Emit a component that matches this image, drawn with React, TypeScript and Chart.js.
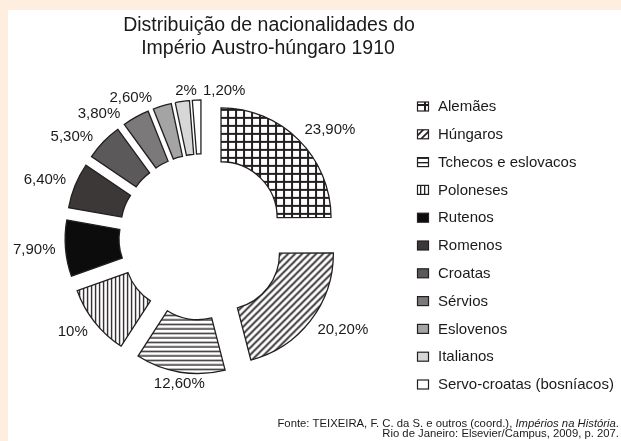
import React, { useEffect, useRef } from "react";
import { Chart, registerables } from "chart.js";

Chart.register(...registerables);

const TITLE_LINES = ["Distribuição de nacionalidades do", "Império Austro-húngaro 1910"];
const CATEGORIES = [
  "Alemães",
  "Húngaros",
  "Tchecos e eslovacos",
  "Poloneses",
  "Rutenos",
  "Romenos",
  "Croatas",
  "Sérvios",
  "Eslovenos",
  "Italianos",
  "Servo-croatas (bosníacos)",
];
const VALUES = [23.9, 20.2, 12.6, 10, 7.9, 6.4, 5.3, 3.8, 2.6, 2, 1.2];
const FILLS = [
  "grid",
  "diag",
  "hlines",
  "vlines",
  "#0c0c0c",
  "#3b3837",
  "#5b5959",
  "#7b7979",
  "#a4a4a4",
  "#d7d7d7",
  "#ffffff",
];
const SOURCE_LINE1 = "Fonte: TEIXEIRA, F. C. da S. e outros (coord.), ";
const SOURCE_LINE1_ITALIC = "Impérios na História";
const SOURCE_LINE1_END = ".";
const SOURCE_LINE2 = "Rio de Janeiro: Elsevier/Campus, 2009, p. 207.";

const FONT = "'Liberation Sans', Arial, Helvetica, sans-serif";
const INK = "#1a1a1a";
const LINE = "#231f20";
const EXPLODE = 27;
const MIN_LABEL_SEP = (14 * Math.PI) / 180;

function formatPct(v: number): string {
  if (Number.isInteger(v)) return v + "%";
  return v.toFixed(2).replace(".", ",") + "%";
}

function makePattern(kind: string): CanvasPattern | string {
  if (kind.startsWith("#")) return kind;
  const c = document.createElement("canvas");
  const x = c.getContext("2d")!;
  if (kind === "grid") {
    c.width = 8;
    c.height = 8;
    x.fillStyle = "#fff";
    x.fillRect(0, 0, 8, 8);
    x.fillStyle = LINE;
    x.fillRect(0, 0, 8, 2);
    x.fillRect(0, 0, 2, 8);
  } else if (kind === "diag") {
    c.width = 7;
    c.height = 7;
    x.fillStyle = "#fff";
    x.fillRect(0, 0, 7, 7);
    x.strokeStyle = LINE;
    x.lineWidth = 1.7;
    for (const o of [-7, 0, 7]) {
      x.beginPath();
      x.moveTo(o - 1, 8);
      x.lineTo(o + 8, -1);
      x.stroke();
    }
  } else if (kind === "hlines") {
    c.width = 9;
    c.height = 9;
    x.fillStyle = "#fff";
    x.fillRect(0, 0, 9, 9);
    x.fillStyle = LINE;
    x.fillRect(0, 0, 9, 1.4);
    x.fillRect(0, 4.5, 9, 1.4);
  } else if (kind === "vlines") {
    c.width = 4;
    c.height = 4;
    x.fillStyle = "#fff";
    x.fillRect(0, 0, 4, 4);
    x.fillStyle = LINE;
    x.fillRect(0, 0, 1.3, 4);
  }
  return x.createPattern(c, "repeat")!;
}

// spread label angles so neighbours keep a minimum angular separation
function spreadAngles(desired: number[], sep: number): number[] {
  type G = { start: number; n: number; base: number };
  const groups: G[] = [];
  desired.forEach((a, i) => {
    groups.push({ start: i, n: 1, base: a });
    while (groups.length > 1) {
      const g = groups[groups.length - 1];
      const p = groups[groups.length - 2];
      if (g.base < p.base + p.n * sep) {
        const n = p.n + g.n;
        let sum = 0;
        for (let k = 0; k < n; k++) sum += desired[p.start + k] - k * sep;
        groups.pop();
        groups[groups.length - 1] = { start: p.start, n, base: sum / n };
      } else break;
    }
  });
  const out: number[] = [];
  groups.forEach((g) => {
    for (let k = 0; k < g.n; k++) out.push(g.base + k * sep);
  });
  return out;
}

export default function App() {
  const ref = useRef<HTMLCanvasElement | null>(null);

  useEffect(() => {
    document.body.style.margin = "0";
    const canvas = ref.current!;
    const fills = FILLS.map(makePattern);

    const backgroundPlugin = {
      id: "bg",
      beforeDraw(chart: any) {
        const ctx = chart.ctx;
        ctx.save();
        ctx.fillStyle = "#fdeee0";
        ctx.fillRect(0, 0, chart.width, chart.height);
        ctx.fillStyle = "#ffffff";
        ctx.fillRect(8, 10, chart.width - 8, chart.height - 10);
        ctx.fillStyle = INK;
        ctx.font = `19.5px ${FONT}`;
        ctx.textAlign = "center";
        ctx.textBaseline = "alphabetic";
        ctx.fillText(TITLE_LINES[0], 269, 31);
        ctx.fillText(TITLE_LINES[1], 268, 54);
        ctx.restore();
      },
    };

    const explodePlugin = {
      id: "explode",
      beforeDatasetDraw(chart: any, args: any) {
        const ctx = chart.ctx;
        args.meta.data.forEach((arc: any) => {
          const { startAngle, endAngle } = arc.getProps(["startAngle", "endAngle"], true);
          const mid = (startAngle + endAngle) / 2;
          ctx.save();
          ctx.translate(Math.cos(mid) * EXPLODE, Math.sin(mid) * EXPLODE);
          arc.draw(ctx, chart.chartArea);
          ctx.restore();
        });
        return false;
      },
    };

    const labelPlugin = {
      id: "labels",
      afterDatasetsDraw(chart: any) {
        const ctx = chart.ctx;
        const meta = chart.getDatasetMeta(0);
        ctx.save();
        ctx.font = `15px ${FONT}`;
        ctx.fillStyle = INK;
        ctx.textBaseline = "middle";
        const hh = 6;
        const props = meta.data.map((arc: any) =>
          arc.getProps(["x", "y", "startAngle", "endAngle", "outerRadius"], true)
        );
        const desired = props.map((p: any) => (p.startAngle + p.endAngle) / 2);
        const angles = spreadAngles(desired, MIN_LABEL_SEP);
        const boxes: { text: string; l: number; r: number; t: number; b: number; cx: number }[] = [];
        props.forEach((p: any, i: number) => {
          const mid = angles[i];
          const ux = Math.cos(mid);
          const uy = Math.sin(mid);
          const rt = p.outerRadius + EXPLODE + 4 + 6 * Math.abs(ux);
          const text = formatPct(VALUES[i]);
          const w = ctx.measureText(text).width;
          const ax = p.x + rt * ux;
          const ay = p.y + rt * uy + hh * uy;
          let l: number;
          if (ux > 0.25) l = ax;
          else if (ux < -0.25) l = ax - w;
          else l = ax - w / 2;
          const box = { text, l, r: l + w, t: ay - hh, b: ay + hh, cx: l + w / 2 };
          for (const o of boxes) {
            const overlapX = Math.min(box.r, o.r) - Math.max(box.l, o.l);
            const overlapY = Math.min(box.b, o.b) - Math.max(box.t, o.t);
            if (overlapX > -4 && overlapY > 0) {
              const shift = overlapX + 6;
              if (box.cx >= o.cx) {
                box.l += shift;
                box.r += shift;
              } else {
                box.l -= shift;
                box.r -= shift;
              }
              box.cx = (box.l + box.r) / 2;
            }
          }
          boxes.push(box);
        });
        ctx.textAlign = "left";
        for (const b of boxes) ctx.fillText(b.text, b.l, (b.t + b.b) / 2 + 0.5);
        ctx.restore();
      },
    };

    const legendPlugin = {
      id: "customLegend",
      afterDraw(chart: any) {
        const ctx = chart.ctx;
        ctx.save();
        ctx.font = `15px ${FONT}`;
        ctx.textBaseline = "middle";
        ctx.textAlign = "left";
        CATEGORIES.forEach((name, i) => {
          const y = 106.5 + i * 27.8;
          ctx.fillStyle = fills[i] as any;
          ctx.fillRect(417.5, y - 4.5, 11, 9);
          ctx.strokeStyle = LINE;
          ctx.lineWidth = 1.2;
          ctx.strokeRect(417.5, y - 4.5, 11, 9);
          ctx.fillStyle = INK;
          ctx.fillText(name, 438, y + 0.5);
        });
        ctx.textAlign = "left";
        ctx.textBaseline = "alphabetic";
        const right = 619;
        ctx.font = `11.3px ${FONT}`;
        const wA = ctx.measureText(SOURCE_LINE1).width;
        const wEnd = ctx.measureText(SOURCE_LINE1_END).width;
        ctx.font = `italic 11.3px ${FONT}`;
        const wB = ctx.measureText(SOURCE_LINE1_ITALIC).width;
        let x = right - (wA + wB + wEnd);
        ctx.font = `11.3px ${FONT}`;
        ctx.fillText(SOURCE_LINE1, x, 427);
        x += wA;
        ctx.font = `italic 11.3px ${FONT}`;
        ctx.fillText(SOURCE_LINE1_ITALIC, x, 427);
        x += wB;
        ctx.font = `11.3px ${FONT}`;
        ctx.fillText(SOURCE_LINE1_END, x, 427);
        ctx.textAlign = "right";
        ctx.fillText(SOURCE_LINE2, right, 437);
        ctx.restore();
      },
    };

    const chart = new Chart(canvas, {
      type: "doughnut",
      data: {
        labels: CATEGORIES,
        datasets: [
          {
            data: VALUES,
            backgroundColor: fills as any,
            borderColor: LINE,
            borderWidth: 1.3,
            borderJoinStyle: "miter",
            borderAlign: "center",
          } as any,
        ],
      },
      options: {
        responsive: false,
        devicePixelRatio: 1,
        animation: false,
        events: [],
        radius: 110,
        cutout: "51%",
        layout: { padding: { left: 10, right: 227, top: 70, bottom: 37 } },
        plugins: {
          legend: { display: false },
          tooltip: { enabled: false },
          title: { display: false },
        },
      } as any,
      plugins: [backgroundPlugin, explodePlugin, labelPlugin, legendPlugin],
    });

    return () => chart.destroy();
  }, []);

  return (
    <div style={{ position: "absolute", left: 0, top: 0, width: 621, height: 441 }}>
      <canvas ref={ref} width={621} height={441} style={{ display: "block", width: 621, height: 441 }} />
    </div>
  );
}
